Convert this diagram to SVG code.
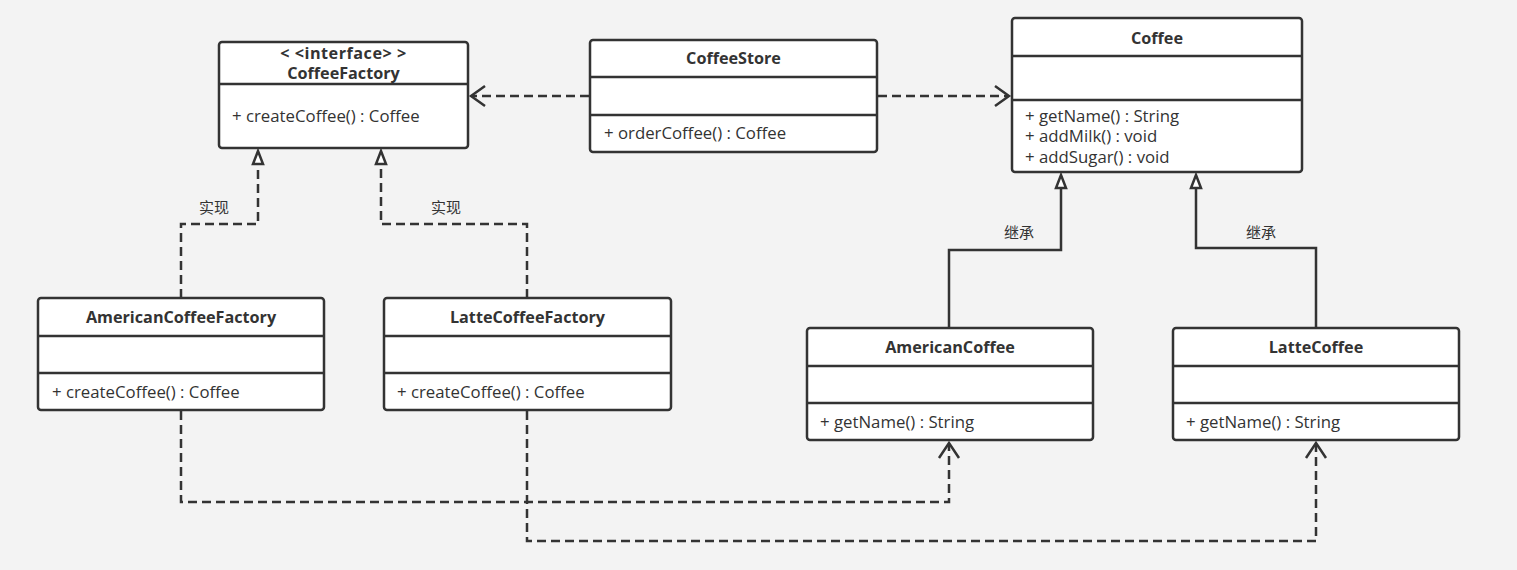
<svg xmlns="http://www.w3.org/2000/svg" width="1517" height="570" viewBox="0 0 1517 570">
  <style>
    .box { fill: #ffffff; stroke: #333333; stroke-width: 2.5; }
    .div { stroke: #333333; stroke-width: 2.5; fill: none; }
    .title { font-family: "Open Sans", "Noto Sans", "Liberation Sans", sans-serif; font-size: 16.2px; font-weight: bold; fill: #333333; text-anchor: middle; }
    .member { font-family: "Open Sans", "Noto Sans", "Liberation Sans", sans-serif; font-size: 16.8px; fill: #333333; }
    .label { font-family: "Noto Sans CJK SC", sans-serif; font-size: 15px; fill: #333333; text-anchor: middle; }
    .dash { fill: none; stroke: #333333; stroke-width: 2.5; stroke-dasharray: 9 5; }
    .solid { fill: none; stroke: #333333; stroke-width: 2.5; }
    .tri { fill: #ffffff; stroke: #333333; stroke-width: 2.5; stroke-linejoin: miter; }
    .open { fill: none; stroke: #333333; stroke-width: 2.5; }
  </style>
  <rect x="0" y="0" width="1517" height="570" fill="#f3f3f3"/>

  <g id="connectors">
    <!-- CoffeeStore uses CoffeeFactory -->
    <path class="dash" d="M589,96 H472"/>
    <path class="open" d="M485,86 L471,96 L485,106"/>
    <!-- CoffeeStore uses Coffee -->
    <path class="dash" d="M878,96 H1008"/>
    <path class="open" d="M995,86 L1009,96 L995,106"/>
    <!-- AmericanCoffeeFactory realizes CoffeeFactory -->
    <path class="dash" d="M181,298 V224 H258 V164"/>
    <path class="tri" d="M258,151 L253,164 L263,164 Z"/>
    <text class="label" x="214" y="213">实现</text>
    <!-- LatteCoffeeFactory realizes CoffeeFactory -->
    <path class="dash" d="M527,298 V224 H381 V164"/>
    <path class="tri" d="M381,151 L376,164 L386,164 Z"/>
    <text class="label" x="446" y="213">实现</text>
    <!-- AmericanCoffee extends Coffee -->
    <path class="solid" d="M949,328 V250 H1061 V188"/>
    <path class="tri" d="M1061,175 L1056,188 L1066,188 Z"/>
    <text class="label" x="1019" y="238">继承</text>
    <!-- LatteCoffee extends Coffee -->
    <path class="solid" d="M1316,328 V248 H1196 V188"/>
    <path class="tri" d="M1196,175 L1191,188 L1201,188 Z"/>
    <text class="label" x="1261" y="238">继承</text>
    <!-- AmericanCoffeeFactory creates AmericanCoffee -->
    <path class="dash" d="M181,411 V502 H949 V444"/>
    <path class="open" d="M939,458 L949,443 L959,458"/>
    <!-- LatteCoffeeFactory creates LatteCoffee -->
    <path class="dash" d="M527,411 V541 H1316 V444"/>
    <path class="open" d="M1306,458 L1316,443 L1326,458"/>
  </g>

  <g id="CoffeeFactory">
    <rect class="box" x="219" y="42" width="249" height="106" rx="3"/>
    <line class="div" x1="219" y1="84" x2="468" y2="84"/>
    <text class="title" x="343.5" y="59" font-size="15.5" letter-spacing="0.5">&lt; &lt;interface&gt; &gt;</text>
    <text class="title" x="343.5" y="79">CoffeeFactory</text>
    <text class="member" x="232" y="122">+ createCoffee() : Coffee</text>
  </g>

  <g id="CoffeeStore">
    <rect class="box" x="590" y="40" width="287" height="112" rx="3"/>
    <line class="div" x1="590" y1="77" x2="877" y2="77"/>
    <line class="div" x1="590" y1="115" x2="877" y2="115"/>
    <text class="title" x="733.5" y="64">CoffeeStore</text>
    <text class="member" x="604" y="139">+ orderCoffee() : Coffee</text>
  </g>

  <g id="Coffee">
    <rect class="box" x="1012" y="18" width="290" height="154" rx="3"/>
    <line class="div" x1="1012" y1="56" x2="1302" y2="56"/>
    <line class="div" x1="1012" y1="100" x2="1302" y2="100"/>
    <text class="title" x="1157" y="44">Coffee</text>
    <text class="member" x="1025" y="122">+ getName() : String</text>
    <text class="member" x="1025" y="142">+ addMilk() : void</text>
    <text class="member" x="1025" y="163">+ addSugar() : void</text>
  </g>

  <g id="AmericanCoffeeFactory">
    <rect class="box" x="38" y="298" width="286" height="112" rx="3"/>
    <line class="div" x1="38" y1="336" x2="324" y2="336"/>
    <line class="div" x1="38" y1="373" x2="324" y2="373"/>
    <text class="title" x="181" y="323">AmericanCoffeeFactory</text>
    <text class="member" x="52" y="398">+ createCoffee() : Coffee</text>
  </g>

  <g id="LatteCoffeeFactory">
    <rect class="box" x="384" y="298" width="287" height="112" rx="3"/>
    <line class="div" x1="384" y1="336" x2="671" y2="336"/>
    <line class="div" x1="384" y1="373" x2="671" y2="373"/>
    <text class="title" x="527.5" y="323">LatteCoffeeFactory</text>
    <text class="member" x="397" y="398">+ createCoffee() : Coffee</text>
  </g>

  <g id="AmericanCoffee">
    <rect class="box" x="807" y="328" width="286" height="112" rx="3"/>
    <line class="div" x1="807" y1="366" x2="1093" y2="366"/>
    <line class="div" x1="807" y1="403" x2="1093" y2="403"/>
    <text class="title" x="950" y="353">AmericanCoffee</text>
    <text class="member" x="820" y="428">+ getName() : String</text>
  </g>

  <g id="LatteCoffee">
    <rect class="box" x="1173" y="328" width="286" height="112" rx="3"/>
    <line class="div" x1="1173" y1="366" x2="1459" y2="366"/>
    <line class="div" x1="1173" y1="403" x2="1459" y2="403"/>
    <text class="title" x="1316" y="353">LatteCoffee</text>
    <text class="member" x="1186" y="428">+ getName() : String</text>
  </g>
</svg>
